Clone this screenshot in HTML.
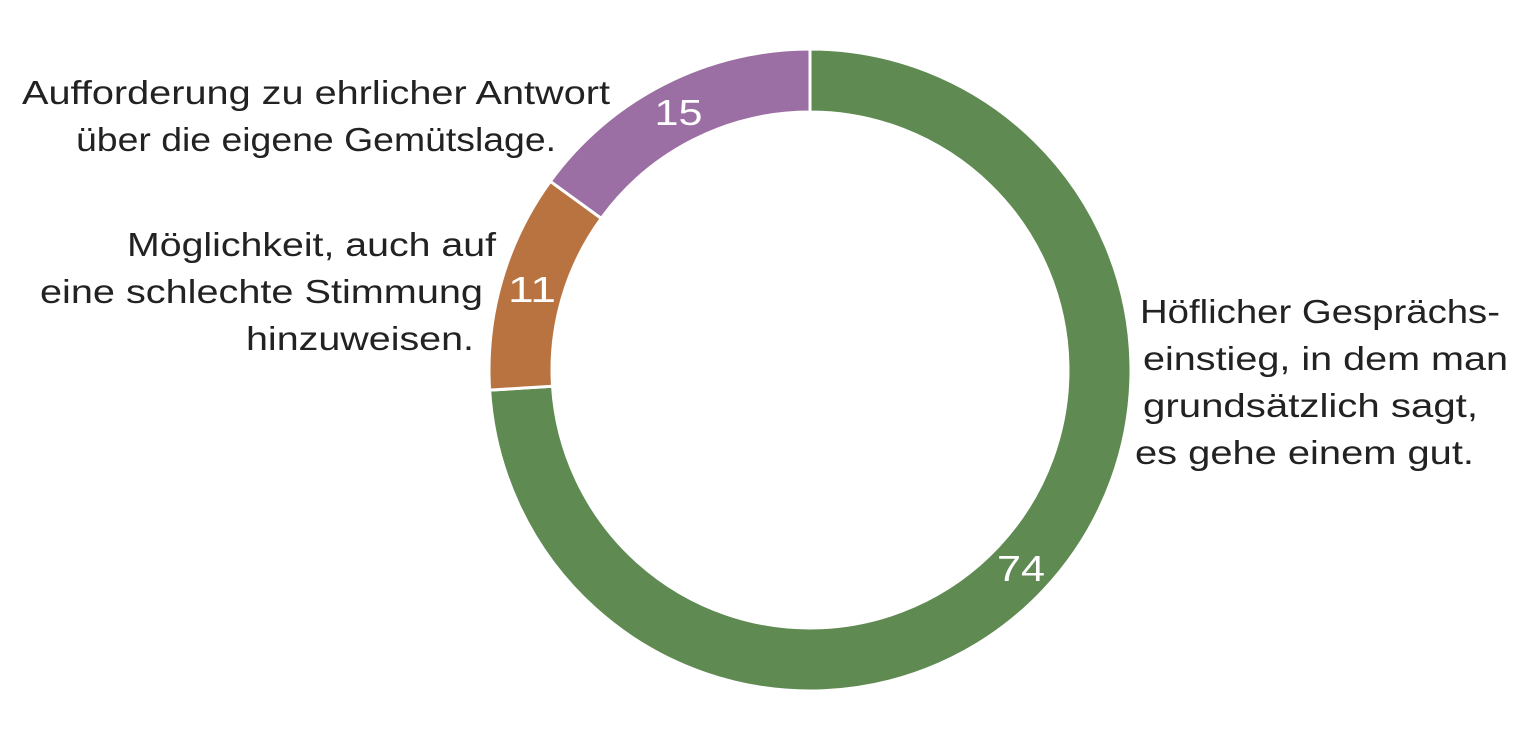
<!DOCTYPE html>
<html><head><meta charset="utf-8"><style>
html,body{margin:0;padding:0;background:#fff;width:1536px;height:730px;overflow:hidden}
svg text{font-family:"Liberation Sans",sans-serif}
</style></head><body>
<svg id="chart" width="1536" height="730" viewBox="0 0 1536 730">
<g id="arcs"></g>
<g id="vals"></g>
<g font-size="33" fill="#222" text-anchor="middle" lengthAdjust="spacingAndGlyphs">
<text x="316" y="104" textLength="588" lengthAdjust="spacingAndGlyphs">Aufforderung zu ehrlicher Antwort</text>
<text x="316" y="151" textLength="480" lengthAdjust="spacingAndGlyphs">über die eigene Gemütslage.</text>
</g>
<g font-size="33" fill="#222" text-anchor="end">
<text x="496" y="256" textLength="369" lengthAdjust="spacingAndGlyphs">Möglichkeit, auch auf</text>
<text x="483" y="303" textLength="443" lengthAdjust="spacingAndGlyphs">eine schlechte Stimmung</text>
<text x="474" y="350" textLength="228" lengthAdjust="spacingAndGlyphs">hinzuweisen.</text>
</g>
<g font-size="33" fill="#222" text-anchor="start">
<text x="1140" y="323" textLength="360" lengthAdjust="spacingAndGlyphs">Höflicher Gesprächs-</text>
<text x="1143" y="370" textLength="365" lengthAdjust="spacingAndGlyphs">einstieg, in dem man</text>
<text x="1143" y="417" textLength="335" lengthAdjust="spacingAndGlyphs">grundsätzlich sagt,</text>
<text x="1135" y="464" textLength="339" lengthAdjust="spacingAndGlyphs">es gehe einem gut.</text>
</g>
</svg>
<script>
const categories = ["Höflicher Gesprächseinstieg", "Möglichkeit, schlechte Stimmung", "Aufforderung zu ehrlicher Antwort"];
const values = [74, 11, 15];
const colors = ["#5f8a52", "#b87340", "#9b6fa3"];
const cx = 810, cy = 370, R = 321, r = 258;
const NS = "http://www.w3.org/2000/svg";
const total = values.reduce((a,b)=>a+b,0);
function pt(rad, a){ return [cx + rad*Math.sin(a), cy - rad*Math.cos(a)]; }
let start = 0;
const arcs = document.getElementById('arcs'), vals = document.getElementById('vals');
values.forEach((v,i)=>{
  const end = start + v/total*2*Math.PI;
  const large = (end-start) > Math.PI ? 1 : 0;
  const [x1,y1]=pt(R,start),[x2,y2]=pt(R,end),[x3,y3]=pt(r,end),[x4,y4]=pt(r,start);
  const p = document.createElementNS(NS,'path');
  p.setAttribute('d',`M${x1},${y1}A${R},${R} 0 ${large} 1 ${x2},${y2}L${x3},${y3}A${r},${r} 0 ${large} 0 ${x4},${y4}Z`);
  p.setAttribute('fill',colors[i]);
  p.setAttribute('stroke','#fff');
  p.setAttribute('stroke-width','3');
  
  
  arcs.appendChild(p);
  const mid = (start+end)/2;
  const [tx,ty] = pt((R+r)/2, mid);
  const t = document.createElementNS(NS,'text');
  t.setAttribute('x',tx); t.setAttribute('y',ty+13);
  t.setAttribute('text-anchor','middle');
  t.setAttribute('font-size','36');
  t.setAttribute('fill','#fff');
  t.setAttribute('textLength', String(String(v).length*24));
  t.setAttribute('lengthAdjust','spacingAndGlyphs');
  t.textContent = v;
  
  
  vals.appendChild(t);
  start = end;
});
</script>
</body></html>
